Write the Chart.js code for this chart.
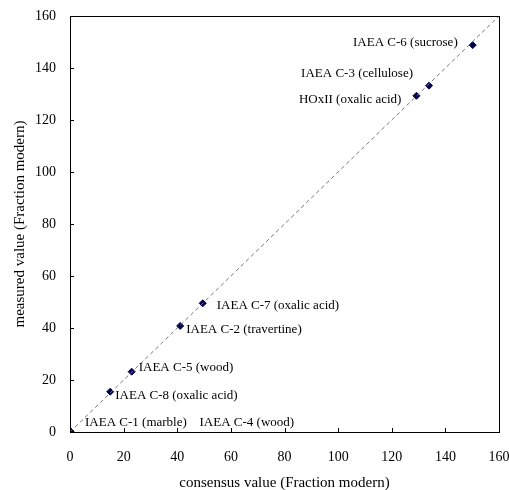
<!DOCTYPE html>
<html>
<head>
<meta charset="utf-8">
<script src="https://cdn.jsdelivr.net/npm/chart.js"></script>
<style>
  html, body { margin: 0; padding: 0; background: #fff; }
  #wrap { width: 509px; height: 490px; }
</style>
</head>
<body>
<div id="wrap"><canvas id="chart"></canvas></div>
<script>
// reference materials: consensus vs measured (Fraction modern)
const names = ['IAEA C-1 (marble)', 'IAEA C-4 (wood)', 'IAEA C-8 (oxalic acid)', 'IAEA C-5 (wood)',
  'IAEA C-2 (travertine)', 'IAEA C-7 (oxalic acid)', 'HOxII (oxalic acid)', 'IAEA C-3 (cellulose)', 'IAEA C-6 (sucrose)'];
const consensus = [0, 0.2, 15.0, 23.0, 41.1, 49.5, 129.2, 133.9, 150.2];
const measured = [0, 0.3, 15.5, 23.2, 40.8, 49.5, 129.3, 133.2, 148.8];
const ticks = [0, 20, 40, 60, 80, 100, 120, 140, 160];
const oneToOne = [0, 160];

// where each label sits relative to its point (px) and its alignment
const labelPos = [
  [15, -9, 'left'], [129, -9, 'left'], [5, 4, 'left'], [7, -4, 'left'], [6, 4, 'left'],
  [14, 2, 'left'], [-15, 4, 'right'], [-16, -12, 'right'], [-15, -3, 'right']
];

const serif = '"Liberation Serif", "Times New Roman", serif';

const frame = {
  id: 'frame',
  afterDraw(chart) {
    const c = chart.ctx, a = chart.chartArea;
    const xs = chart.scales.x, ys = chart.scales.y;
    c.save();
    c.strokeStyle = '#000';
    c.lineWidth = 1;
    c.strokeRect(a.left + 0.5, a.top + 0.5, a.right - a.left, a.bottom - a.top);
    c.beginPath();
    ticks.forEach(t => {
      const px = Math.round(xs.getPixelForValue(t)) + 0.5;
      c.moveTo(px, a.bottom); c.lineTo(px, a.bottom - 4);
      const py = Math.round(ys.getPixelForValue(t)) + 0.5;
      c.moveTo(a.left, py); c.lineTo(a.left + 4, py);
    });
    c.stroke();
    // point labels
    c.fillStyle = '#000';
    c.font = '13px ' + serif;
    c.textBaseline = 'middle';
    const meta = chart.getDatasetMeta(1);
    meta.data.forEach((p, i) => {
      const [dx, dy, al] = labelPos[i];
      c.textAlign = al;
      c.fillText(names[i], p.x + dx, p.y + dy);
    });
    c.restore();
  }
};

new Chart(document.getElementById('chart'), {
  type: 'scatter',
  data: {
    datasets: [{
      type: 'line',
      data: oneToOne.map(v => ({ x: v, y: v })),
      borderColor: '#777',
      borderWidth: 1,
      borderDash: [4, 3],
      pointRadius: 0,
      fill: false
    }, {
      data: consensus.map((v, i) => ({ x: v, y: measured[i] })),
      pointStyle: 'rectRot',
      pointRadius: 3.5,
      backgroundColor: '#00004d',
      borderColor: '#00004d',
      borderWidth: 1
    }]
  },
  options: {
    responsive: true,
    maintainAspectRatio: false,
    animation: false,
    layout: { padding: { left: 0, right: 10, top: 16, bottom: 0 } },
    plugins: { legend: { display: false }, tooltip: { enabled: false } },
    scales: {
      x: {
        type: 'linear', min: 0, max: 160,
        afterFit(s) { s.height = 58; s.paddingLeft = 0; s.paddingRight = 0; },
        afterBuildTicks(s) { s.ticks = ticks.map(v => ({ value: v })); },
        grid: { display: false, drawTicks: false },
        border: { display: false },
        ticks: { padding: 17, color: '#000', font: { family: serif, size: 14 } },
        title: { display: true, text: 'consensus value (Fraction modern)', color: '#000',
          font: { family: serif, size: 15 }, padding: { top: 4, bottom: -2 } }
      },
      y: {
        type: 'linear', min: 0, max: 160,
        afterFit(s) { s.width = 70; s.paddingTop = 0; s.paddingBottom = 0; },
        afterBuildTicks(s) { s.ticks = ticks.map(v => ({ value: v })); },
        grid: { display: false, drawTicks: false },
        border: { display: false },
        ticks: { padding: 14, color: '#000', font: { family: serif, size: 14 } },
        title: { display: true, text: 'measured value (Fraction modern)', color: '#000',
          font: { family: serif, size: 15 }, padding: { top: 11, bottom: 4 } }
      }
    }
  },
  plugins: [frame]
});
</script>
</body>
</html>
